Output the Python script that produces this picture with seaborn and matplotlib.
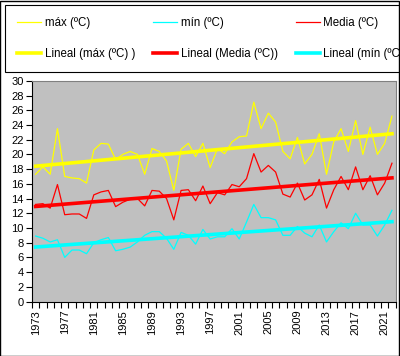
import numpy as np
import pandas as pd
import seaborn as sns
import matplotlib.pyplot as plt
from matplotlib.patches import Rectangle

years = list(range(1973, 2023))
t_max = [17.3, 18.3, 17.3, 23.5, 17.0, 16.8, 16.7, 16.1, 20.6, 21.5,
         21.4, 19.3, 20.0, 20.4, 20.0, 17.3, 20.8, 20.4, 19.1, 15.1,
         20.7, 21.5, 19.7, 21.5, 18.2, 20.8, 20.1, 21.7, 22.4, 22.5,
         27.1, 23.5, 25.6, 24.4, 20.4, 19.4, 22.3, 18.7, 20.0, 22.8,
         17.3, 21.7, 23.5, 20.4, 24.6, 20.0, 23.7, 20.0, 21.5, 25.2]
t_min = [8.9, 8.6, 8.1, 8.4, 6.0, 7.0, 7.0, 6.5, 8.0, 8.4,
         8.7, 6.9, 7.1, 7.4, 8.1, 9.0, 9.5, 9.5, 8.6, 7.1,
         9.4, 9.0, 7.8, 9.8, 8.5, 8.8, 8.8, 9.9, 8.5, 10.8,
         13.2, 11.4, 11.4, 11.1, 9.0, 9.0, 10.2, 9.3, 8.8, 10.4,
         8.1, 9.5, 10.7, 9.9, 12.0, 10.4, 10.4, 8.9, 10.4, 12.4]
t_media = [13.2, 13.3, 12.7, 15.9, 11.8, 11.9, 11.9, 11.3, 14.5, 14.9,
           15.1, 12.9, 13.5, 13.9, 14.0, 13.0, 15.1, 15.0, 14.0, 11.1,
           15.1, 15.2, 13.7, 15.7, 13.3, 14.8, 14.5, 15.9, 15.6, 16.7,
           20.1, 17.6, 18.5, 17.6, 14.6, 14.2, 16.1, 13.8, 14.5, 16.6,
           12.7, 15.2, 17.0, 15.2, 18.3, 15.2, 17.1, 14.5, 16.1, 18.8]

df = pd.DataFrame({'year': years, 'max': t_max, 'min': t_min, 'media': t_media})

# linear trend (Excel "Lineal")
for col in ['max', 'min', 'media']:
    p = np.polyfit(df['year'], df[col], 1)
    df['lin_' + col] = np.polyval(p, df['year'])

plt.rcParams['font.family'] = ['Liberation Sans', 'DejaVu Sans']

fig = plt.figure(figsize=(4.0, 3.56), dpi=100)
fig.patch.set_facecolor('white')
ax = fig.add_axes([0.08, 0.153, 0.909, 0.62])
ax.set_facecolor('#C0C0C0')

sns.lineplot(data=df, x='year', y='max', ax=ax, color='#FFFF00', lw=0.9, label='máx (ºC)')
sns.lineplot(data=df, x='year', y='lin_max', ax=ax, color='#FFFF00', lw=2.6, label='Lineal (máx (ºC) )')
sns.lineplot(data=df, x='year', y='min', ax=ax, color='#00FFFF', lw=0.9, label='mín (ºC)')
sns.lineplot(data=df, x='year', y='lin_media', ax=ax, color='#FF0000', lw=2.6, label='Lineal (Media (ºC))')
sns.lineplot(data=df, x='year', y='media', ax=ax, color='#FF0000', lw=0.9, label='Media (ºC)')
sns.lineplot(data=df, x='year', y='lin_min', ax=ax, color='#00FFFF', lw=2.6, label='Lineal (mín (ºC)')

ax.set_xlim(1972.5, 2022.5)
ax.set_ylim(0, 30)
ax.set_yticks(range(0, 31, 2))
ax.set_xticks(years[::4])
ax.set_xticklabels([str(y) for y in years[::4]], rotation=90)
ax.set_xticks(np.arange(1972.5, 2023, 1), minor=True)
ax.tick_params(axis='x', which='major', length=0, pad=6, labelsize=8)
ax.tick_params(axis='x', which='minor', length=4, width=0.8, direction='out')
ax.tick_params(axis='y', length=4, width=0.8, labelsize=8, pad=2)
ax.set_xlabel('')
ax.set_ylabel('')

for s in ['top', 'right']:
    ax.spines[s].set_color('#808080')
    ax.spines[s].set_linewidth(0.8)
for s in ['left', 'bottom']:
    ax.spines[s].set_color('black')
    ax.spines[s].set_linewidth(0.8)

leg = ax.legend(loc='upper left', bbox_to_anchor=(5 / 400, 1 - 5 / 356),
                bbox_transform=fig.transFigure, ncol=3, fontsize=8.3,
                frameon=True, fancybox=False, framealpha=1, edgecolor='black',
                handlelength=2.1, handletextpad=0.3, columnspacing=1.55,
                labelspacing=1.6, borderpad=1.05, borderaxespad=0)
leg.get_frame().set_linewidth(0.8)

fig.patches.append(Rectangle((0.001, 0.001), 0.997, 0.997, transform=fig.transFigure,
                             fill=False, edgecolor='black', lw=1))

plt.savefig('out.png', dpi=100)
